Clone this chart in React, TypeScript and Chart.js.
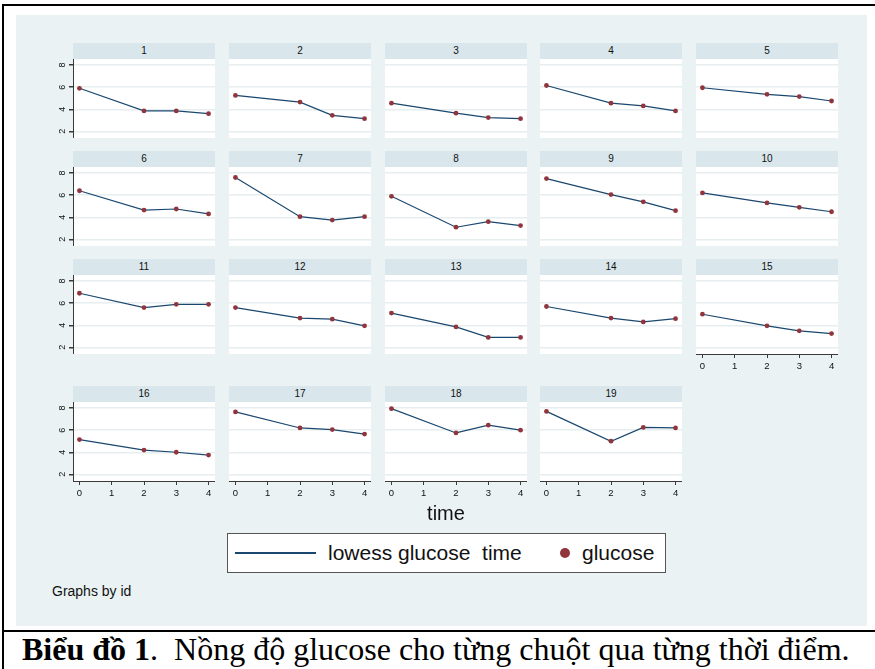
import React, { useEffect, useRef } from "react";
import { Chart, registerables } from "chart.js";
Chart.register(...registerables);

// ---------- data ----------
const ids = ["1", "2", "3", "4", "5", "6", "7", "8", "9", "10", "11", "12", "13", "14", "15", "16", "17", "18", "19"];
const times = [0, 2, 3, 4];
const g1 = [5.9, 3.85, 3.85, 3.6];
const g2 = [5.25, 4.65, 3.45, 3.15];
const g3 = [4.55, 3.65, 3.25, 3.15];
const g4 = [6.15, 4.55, 4.3, 3.85];
const g5 = [5.95, 5.35, 5.15, 4.75];
const g6 = [6.4, 4.65, 4.75, 4.3];
const g7 = [7.6, 4.05, 3.75, 4.05];
const g8 = [5.9, 3.1, 3.6, 3.25];
const g9 = [7.5, 6.05, 5.4, 4.6];
const g10 = [6.2, 5.3, 4.9, 4.5];
const g11 = [6.9, 5.6, 5.9, 5.9];
const g12 = [5.6, 4.65, 4.55, 3.95];
const g13 = [5.1, 3.85, 2.9, 2.9];
const g14 = [5.7, 4.65, 4.3, 4.6];
const g15 = [5.0, 3.95, 3.5, 3.25];
const g16 = [5.15, 4.2, 4.0, 3.75];
const g17 = [7.65, 6.2, 6.05, 5.65];
const g18 = [7.95, 5.75, 6.45, 6.0];
const g19 = [7.7, 5.0, 6.25, 6.2];
const glucoseById = [g1, g2, g3, g4, g5, g6, g7, g8, g9, g10, g11, g12, g13, g14, g15, g16, g17, g18, g19];
const yTicks = [2, 4, 6, 8];
const xTicks = [0, 1, 2, 3, 4];
const xTitle = "time";
const legendLine = "lowess glucose  time";
const legendMarker = "glucose";
const byNote = "Graphs by id";

// ---------- style ----------
const SANS = "'Liberation Sans', Arial, Helvetica, sans-serif";
const SERIF = "'Liberation Serif', 'Times New Roman', serif";
const BG = "#eaf2f3";
const STRIP = "#d9e6eb";
const GRID = "#e6eef0";
const NAVY = "#1a476f";
const MAROON = "#90353b";
const AXIS = "#3a3a3a";

const colLeft = [73, 229, 385, 540, 696];
const rowTop = [43, 151, 259, 386];
const plotW = 142;
const headerH = 16;
const plotH = 79;
const yAxisW = 22;
const xAxisH = 24;

const whitePlot = {
  id: "whitePlot",
  beforeDraw(chart: any) {
    const { ctx, chartArea } = chart;
    ctx.save();
    ctx.fillStyle = "#ffffff";
    ctx.fillRect(chartArea.left, chartArea.top, chartArea.right - chartArea.left, chartArea.bottom - chartArea.top);
    ctx.restore();
  },
};

function Panel({ index }: { index: number }) {
  const ref = useRef<HTMLCanvasElement | null>(null);
  const row = index < 15 ? Math.floor(index / 5) : 3;
  const col = index < 15 ? index % 5 : index - 15;
  const hasY = col === 0;
  const hasX = index >= 14;
  const cw = plotW + (hasY ? yAxisW : 0);
  const ch = plotH + (hasX ? xAxisH : 0);
  const left = colLeft[col] - (hasY ? yAxisW : 0);
  const top = rowTop[row] + headerH;

  useEffect(() => {
    if (!ref.current) return;
    const vals = glucoseById[index];
    const zeroPad = (s: any) => {
      s.paddingTop = 0;
      s.paddingBottom = 0;
      s.paddingLeft = 0;
      s.paddingRight = 0;
    };
    const chart = new Chart(ref.current, {
      type: "line",
      data: {
        datasets: [
          {
            label: "glucose",
            data: times.map((t, i) => ({ x: t, y: vals[i] })),
            borderColor: NAVY,
            borderWidth: 1.2,
            pointBackgroundColor: MAROON,
            pointBorderColor: MAROON,
            pointRadius: 2.4,
            pointBorderWidth: 0,
            tension: 0,
            fill: false,
            clip: false,
          },
        ],
      },
      options: {
        animation: false,
        responsive: false,
        maintainAspectRatio: false,
        layout: { padding: 0, autoPadding: false },
        plugins: { legend: { display: false }, tooltip: { enabled: false }, title: { display: false } },
        scales: {
          x: {
            type: "linear",
            min: -0.2,
            max: 4.2,
            afterBuildTicks: (s: any) => {
              s.ticks = xTicks.map((v) => ({ value: v }));
            },
            afterFit: (s: any) => {
              s.height = hasX ? xAxisH : 0;
              zeroPad(s);
            },
            grid: {
              display: hasX,
              drawOnChartArea: false,
              drawTicks: hasX,
              tickLength: 4,
              tickColor: AXIS,
              color: AXIS,
            },
            border: { display: hasX, color: AXIS, width: 1 },
            ticks: {
              display: hasX,
              padding: 3,
              color: "#111",
              font: { family: SANS, size: 9.5 },
              maxRotation: 0,
              minRotation: 0,
              callback: (v: any) => String(v),
            },
          },
          y: {
            type: "linear",
            min: 1.4,
            max: 8.55,
            afterBuildTicks: (s: any) => {
              s.ticks = yTicks.map((v) => ({ value: v }));
            },
            afterFit: (s: any) => {
              s.width = hasY ? yAxisW : 0;
              zeroPad(s);
            },
            grid: {
              display: true,
              drawOnChartArea: true,
              drawTicks: hasY,
              tickLength: 4,
              tickColor: AXIS,
              color: GRID,
              lineWidth: 1.5,
            },
            border: { display: hasY, color: AXIS, width: 1 },
            ticks: {
              display: hasY,
              padding: 4,
              color: "#111",
              minRotation: 90,
              maxRotation: 90,
              crossAlign: "center",
              font: { family: SANS, size: 9 },
              callback: (v: any) => String(v),
            },
          },
        },
      },
      plugins: [whitePlot],
    } as any);
    return () => chart.destroy();
  }, [index]);

  return (
    <>
      <div
        style={{
          position: "absolute",
          left: colLeft[col],
          top: rowTop[row],
          width: plotW,
          height: headerH,
          background: STRIP,
          font: `10px ${SANS}`,
          lineHeight: `${headerH}px`,
          textAlign: "center",
          color: "#111",
        }}
      >
        {ids[index]}
      </div>
      <canvas
        ref={ref}
        width={cw}
        height={ch}
        style={{ position: "absolute", left, top, width: cw, height: ch }}
      />
    </>
  );
}

export default function App() {
  return (
    <div
      style={{
        position: "absolute",
        left: 0,
        top: 0,
        width: 875,
        height: 669,
        overflow: "hidden",
        background: "#ffffff",
      }}
    >
      {/* frame lines */}
      <div style={{ position: "absolute", left: 2, top: 4, width: 2, height: 665, background: "#000" }} />
      <div style={{ position: "absolute", left: 2, top: 4, width: 873, height: 2, background: "#000" }} />
      <div style={{ position: "absolute", left: 2, top: 630, width: 873, height: 2, background: "#000" }} />
      {/* graph background */}
      <div style={{ position: "absolute", left: 16, top: 15, width: 851, height: 611, background: BG }} />

      {ids.map((_, i) => (
        <Panel key={i} index={i} />
      ))}

      <div
        style={{
          position: "absolute",
          left: 346,
          top: 501,
          width: 200,
          textAlign: "center",
          font: `20px ${SANS}`,
          lineHeight: "24px",
          color: "#111",
        }}
      >
        {xTitle}
      </div>

      {/* legend */}
      <div
        style={{
          position: "absolute",
          left: 227,
          top: 533,
          width: 437,
          height: 38,
          background: "#fff",
          border: "1px solid #555",
        }}
      />
      <div style={{ position: "absolute", left: 235, top: 552, width: 81, height: 2, background: NAVY }} />
      <div
        style={{
          position: "absolute",
          left: 328,
          top: 541,
          font: `21px ${SANS}`,
          lineHeight: "24px",
          whiteSpace: "pre",
          color: "#111",
        }}
      >
        {legendLine}
      </div>
      <div
        style={{
          position: "absolute",
          left: 560,
          top: 548,
          width: 10,
          height: 10,
          borderRadius: "50%",
          background: MAROON,
        }}
      />
      <div
        style={{
          position: "absolute",
          left: 582,
          top: 541,
          font: `21px ${SANS}`,
          lineHeight: "24px",
          color: "#111",
        }}
      >
        {legendMarker}
      </div>

      <div
        style={{
          position: "absolute",
          left: 52,
          top: 583,
          font: `14px ${SANS}`,
          lineHeight: "16px",
          color: "#111",
        }}
      >
        {byNote}
      </div>

      {/* caption */}
      <div
        style={{
          position: "absolute",
          left: 22,
          top: 631,
          font: `32px ${SERIF}`,
          lineHeight: "36px",
          whiteSpace: "nowrap",
          color: "#000",
        }}
      >
        <b>Biểu đồ 1</b>.&nbsp; Nồng độ glucose cho từng chuột qua từng thời điểm.
      </div>
    </div>
  );
}
